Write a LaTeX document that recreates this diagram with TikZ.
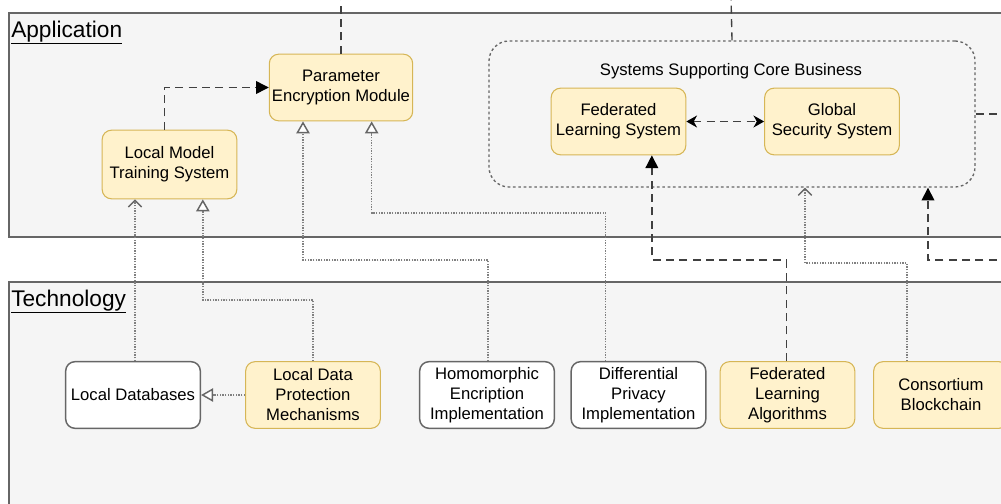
\documentclass[tikz,border=0pt]{standalone}
\usepackage{fontspec}
\setmainfont{Liberation Sans}
\usetikzlibrary{arrows.meta}
\definecolor{grpfill}{HTML}{F5F5F5}
\definecolor{grpline}{HTML}{666666}
\definecolor{sysfill}{HTML}{FFF2CC}
\definecolor{sysline}{HTML}{D6B656}
\begin{document}
\begin{tikzpicture}[x=0.75pt, y=-0.75pt,
    every node/.style={font=\fontsize{12.5pt}{15pt}\selectfont, align=center},
    sysbox/.style={draw=sysline, fill=sysfill, line width=0.8pt, rounded corners=7pt,
      minimum width=101pt, minimum height=50pt, inner sep=2pt},
    implbox/.style={draw=grpline, fill=white, line width=1.1pt, rounded corners=7pt,
      minimum width=101pt, minimum height=50pt, inner sep=2pt},
    layer/.style={draw=grpline, fill=grpfill, line width=1.1pt},
    layername/.style={anchor=base west, inner sep=0pt, font=\fontsize{17pt}{20pt}\selectfont},
    dashline/.style={draw=black!75, line width=1pt, dash pattern=on 6pt off 4pt},
    dotline/.style={draw=black!50, line width=1pt, dash pattern=on 1pt off 1pt},
    solidtip/.style={-{Triangle[length=9.5pt, width=9.5pt, fill=black, color=black]}},
    realtip/.style={-{Triangle[open, length=9pt, width=10pt, fill=white, color=grpline, line width=1.1pt]}},
    usetip/.style={-{Straight Barb[length=5pt, width=10pt, color=grpline, line width=1.1pt]}}]
  \useasboundingbox (0,0) rectangle (1001,504);
  % layers
  \path[layer] (9,13) rectangle (1015,237);
  \path[layer] (9,282) rectangle (1015,515);
  \node[layername] (app) at (11,37) {\underline{Application}};
  \node[layername] (tech) at (11,306) {\underline{Technology}};
  % application layer
  \node[sysbox] (pem) at (341,87.5) {Parameter\\Encryption Module};
  \node[sysbox, minimum height=51.5pt] (lmts) at (169.5,164.5) {Local Model\\Training System};
  \node[draw=grpline, line width=1pt, dash pattern=on 2pt off 2pt, rounded corners=15pt,
    minimum width=364.5pt, minimum height=109.5pt] (core) at (732,114) {};
  \node (coretitle) at (731,71) {Systems Supporting Core Business};
  \node[sysbox] (fls) at (618.5,121.5) {Federated\\Learning System};
  \node[sysbox] (gss) at (832,121.5) {Global\\Security System};
  % technology layer
  \node[implbox] (ldb) at (133,395) {Local Databases};
  \node[sysbox] (ldp) at (313,395) {Local Data\\Protection\\Mechanisms};
  \node[implbox] (hom) at (487,395) {Homomorphic\\Encription\\Implementation};
  \node[implbox] (dp) at (638.5,395) {Differential\\Privacy\\Implementation};
  \node[sysbox] (fla) at (787.5,395) {Federated\\Learning\\Algorithms};
  \node[sysbox] (cb) at (941,395) {Consortium\\Blockchain};
  % loose ends
  \coordinate (pemtop) at (341,-5);
  \coordinate (coretop) at (731,-5);
  \coordinate (coreout) at (1010,114);
  \coordinate (blockin) at (1010,260);
  % flows
  \draw[dashline] (pem.north) -- (pemtop);
  \draw[dashline] (core.north) -- (coretop);
  \draw[dashline] (core.east) -- (coreout);
  \draw[dashline, solidtip] ([xshift=-4pt]lmts.north) |- (pem.west);
  \draw[dashline, {Stealth[length=8pt, width=9pt, inset=2.5pt, color=black]}-{Stealth[length=8pt, width=9pt, inset=2.5pt, color=black]}] (fls) -- (gss);
  \draw[dashline, solidtip] ([xshift=-1pt]fla.north) -- ++(0,-101) -| ([xshift=25pt]fls.south);
  \draw[dashline, solidtip] (blockin) -| ([xshift=147pt]core.south);
  % realizations and uses
  \draw[dotline, usetip] ([xshift=1.5pt]ldb.north) -- ([xshift=1.5pt]ldb.north |- lmts.south);
  \draw[dotline, realtip] (ldp.north) -- ++(0,-61) -| ([xshift=25pt]lmts.south);
  \draw[dotline, realtip] ([xshift=0.75pt]hom.north) -- ++(0,-101) -| ([xshift=-28.5pt]pem.south);
  \draw[dotline, realtip] ([xshift=-25pt]dp.north) -- ++(0,-148) -| ([xshift=23pt]pem.south);
  \draw[dotline, usetip] ([xshift=-25.5pt]cb.north) -- ++(0,-98) -| ([xshift=54.75pt]core.south);
  \draw[dotline, realtip] (ldp.west) -- (ldb.east);
\end{tikzpicture}
\end{document}
